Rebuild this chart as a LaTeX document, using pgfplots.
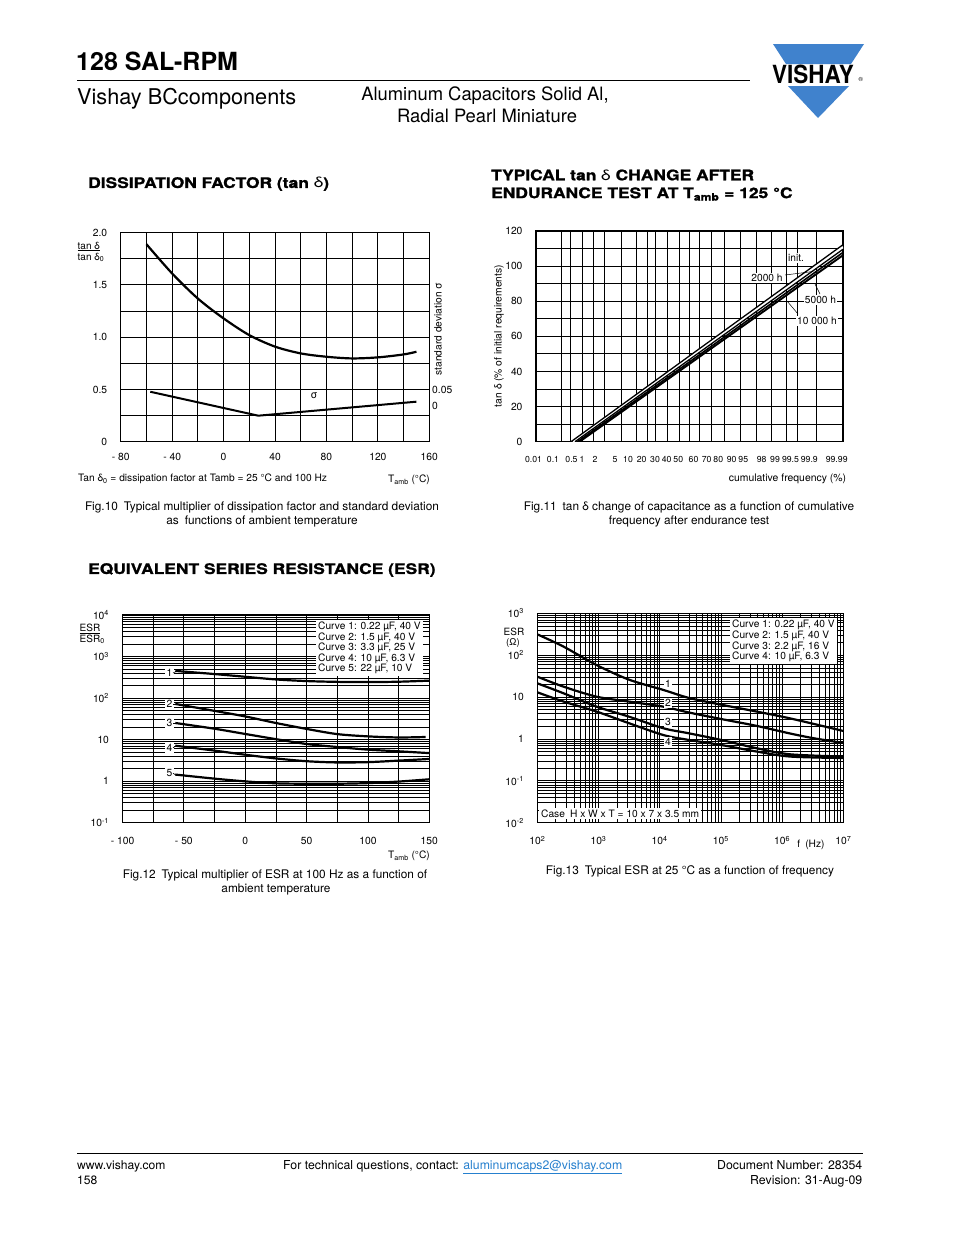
\documentclass[border=0pt]{standalone}
\usepackage{pgfplots}
\pgfplotsset{compat=1.18}
\usepackage{fontspec}
\setmainfont{TeX Gyre Heros}
\newfontfamily\headfont[FakeStretch=1.2, BoldFeatures={FakeBold=1.3}]{TeX Gyre Heros}
\definecolor{vblue}{RGB}{64,130,205}
\definecolor{linkblue}{RGB}{38,128,206}
\newcommand\fs[1]{\fontsize{#1}{#1}\selectfont}
\pgfplotsset{
  chart/.style={
    scale only axis, clip=true,
    axis line style={line width=1.1pt},
    major grid style={black, line width=0.8pt},
    minor grid style={black, line width=0.55pt},
    tick style={draw=none},
    tick label style={font=\fs{10.3}},
    /pgf/number format/assume math mode=true,
    xticklabel style={yshift=-8pt},
    yticklabel style={xshift=-10pt},
  }
}
\begin{document}
\begin{tikzpicture}[x=1pt,y=1pt]
\useasboundingbox (0,0) rectangle (954,-1235);
\fill[white] (0,0) rectangle (954,-1235);

% ---------- header ----------
\node[anchor=base west, inner sep=0, font=\fs{25}\bfseries] at (76,-70) {128 SAL-RPM};
\draw[line width=1pt] (77,-80) -- (750,-80);
\node[anchor=base west, inner sep=0, font=\fs{21.7}] at (77,-104) {Vishay BCcomponents};
\node[anchor=base, inner sep=0, font=\fs{18.4}] at (485,-100) {Aluminum Capacitors Solid Al,};
\node[anchor=base, inner sep=0, font=\fs{18.4}] at (487,-122) {Radial Pearl Miniature};
% logo
\fill[vblue] (773,-44) -- (864,-44) -- (851,-64) -- (786,-64) -- cycle;
\fill[vblue] (788,-86) -- (849,-86) -- (818,-118) -- cycle;
\node[anchor=base west, inner sep=0, font=\fs{25}\bfseries, xscale=0.9] at (772,-83) {VISHAY};
\node[anchor=base west, inner sep=0, font=\fs{6}] at (858.5,-81) {\textregistered};

% ---------- headings ----------
\node[anchor=west, inner sep=0, font=\headfont\fs{14.5}\bfseries] at (88,-184) {DISSIPATION FACTOR (tan {\mdseries δ})};
\node[anchor=west, inner sep=0, font=\headfont\fs{14.5}\bfseries] at (491,-175) {TYPICAL tan {\mdseries δ} CHANGE AFTER};
\node[anchor=west, inner sep=0, font=\headfont\fs{14.5}\bfseries] at (491,-194) {ENDURANCE TEST AT T\textsubscript{amb} = 125 °C};
\node[anchor=west, inner sep=0, font=\headfont\fs{14.5}\bfseries] at (88,-570) {EQUIVALENT SERIES RESISTANCE (ESR)};

% ---------- chart 1 ----------
\begin{axis}[chart, at={(120.7pt,-441.7pt)}, anchor=south west, width=308.6pt, height=209pt,
  xmin=-80, xmax=160, ymin=0, ymax=2,
  xtick={-80,-60,...,160}, xticklabels={- 80,,- 40,,0,,40,,80,,120,,160},
  ytick={0,0.25,...,2}, yticklabels={0,,0.5,,1.0,,1.5,,2.0},
  grid=major, major grid style={black, line width=1pt}]
\addplot[black, line width=2.2pt, smooth] coordinates {
  (-60,1.89) (-40,1.61) (-20,1.37) (0,1.18) (20,1.02) (40,0.91) (60,0.845)
  (80,0.813) (100,0.797) (120,0.807) (140,0.835) (150,0.861)};
\addplot[black, line width=2pt] coordinates {(-57,0.478) (27,0.249) (150,0.383)};
\end{axis}
\node[font=\fs{10.5}] at (314,-396) {σ};
\node[anchor=west, inner sep=0, font=\fs{10}] at (77.5,-246.5) {\underline{tan δ}};
\node[anchor=west, inner sep=0, font=\fs{10}] at (77.5,-257.5) {tan δ\textsubscript{0}};
\node[rotate=90, font=\fs{10.2}] at (438,-329) {standard deviation σ};
\node[anchor=west, inner sep=0, font=\fs{10.3}] at (432,-390) {0.05};
\node[anchor=west, inner sep=0, font=\fs{10.3}] at (432,-406) {0};
\node[anchor=west, inner sep=0, font=\fs{10.2}] at (78,-479) {Tan δ\textsubscript{0} = dissipation factor at Tamb = 25 °C and 100 Hz};
\node[anchor=east, inner sep=0, font=\fs{10.2}] at (430,-480) {T\textsubscript{amb} (°C)};
\node[anchor=base, inner sep=0, font=\fs{11.85}] at (262,-510) {Fig.10\enspace Typical multiplier of dissipation factor and standard deviation};
\node[anchor=base, inner sep=0, font=\fs{11.85}] at (262,-524) {as\enspace functions of ambient temperature};

% ---------- chart 2 ----------
\begin{axis}[chart, at={(536pt,-441.7pt)}, anchor=south west, width=307pt, height=210.7pt,
  xmin=536, xmax=843, ymin=0, ymax=120,
  xtick={561.5,570,582,593,604,621.5,636.5,647,655.5,667.5,679.5,689.5,699.5,711.5,724,740,756.5,771.5,786.5,797,816.5},
  xticklabels={,,,,,,,,,,,,,,,,,,,,},
  ytick={0,10,...,120}, yticklabels={0,,20,,40,,60,,80,,100,,120},
  grid=major, major grid style={black, line width=0.9pt}]
\addplot[white, line width=3pt] coordinates {(573,0) (843,110.9)};
\addplot[black, line width=1.3pt] coordinates {(571,0) (843,112.2)};
\addplot[black, line width=1.3pt] coordinates {(575,0) (843,109.6)};
\addplot[black, line width=1.6pt] coordinates {(577.5,0) (843,107.8)};
\addplot[black, line width=1.9pt] coordinates {(579.5,0) (843,106.2)};
\end{axis}
\draw[line width=0.5pt] (785,-275) -- (813,-271.5);
\draw[line width=0.5pt] (820,-294) -- (815,-284);
\draw[line width=0.5pt] (798,-314) -- (787,-301);
\node[fill=white, inner sep=1pt, font=\fs{10.2}] at (796,-258) {init.};
\node[fill=white, inner sep=1pt, font=\fs{10.2}] at (767,-278) {2000 h};
\node[fill=white, inner sep=1pt, font=\fs{10.2}] at (820.5,-300) {5000 h};
\node[fill=white, inner sep=1pt, font=\fs{10.2}] at (817,-321) {10 000 h};
\node[rotate=90, font=\fs{10.3}] at (499,-336) {tan δ (\% of initial requirements)};
\foreach \xx/\lab in {533.5/0.01,553/0.1,571.5/0.5,582/1,595/2,615/5,628/10,641.7/20,655/30,666.7/40,678.3/50,693.5/60,706.7/70,718.3/80,731.7/90,743.3/95,761.7/98,775/99,790.5/99.5,809.3/99.9,836.7/99.99}
  \node[font=\fs{8.7}, inner sep=0, anchor=base] at (\xx,-462) {\lab};
\node[font=\fs{10.4}] at (787.5,-479) {cumulative frequency (\%)};
\node[anchor=base, inner sep=0, font=\fs{11.85}] at (689,-510) {Fig.11\enspace tan δ change of capacitance as a function of cumulative};
\node[anchor=base, inner sep=0, font=\fs{11.85}] at (689,-524) {frequency after endurance test};

% ---------- chart 3 ----------
\begin{axis}[chart, at={(122.5pt,-822.5pt)}, anchor=south west, width=306.8pt, height=207.5pt,
  xmin=-100, xmax=150, ymode=log, ymin=0.1, ymax=10000,
  xtick={-100,-75,...,150}, xticklabels={- 100,,- 50,,0,,50,,100,,150},
  xticklabel style={yshift=-3.5pt},
  ytick={0.1,1,10,100,1000,10000},
  yticklabels={10\textsuperscript{-1},1,10,10\textsuperscript{2},10\textsuperscript{3},10\textsuperscript{4}},
  minor ytick={0.2,0.3,0.4,0.5,0.6,0.7,0.8,0.9,2,3,4,5,6,7,8,9,20,30,40,50,60,70,80,90,200,300,400,500,600,700,800,900,2000,3000,4000,5000,6000,7000,8000,9000},
  xmajorgrids, ymajorgrids, yminorgrids]
\addplot[black, line width=2.2pt, smooth] coordinates {(-57,450) (-25,378) (0,325) (25,280) (50,256) (75,245) (100,242) (125,247) (150,262)};
\addplot[black, line width=2.2pt, smooth] coordinates {(-57,72) (-25,49) (0,36) (25,25) (50,18) (75,13.5) (100,11.9) (125,11.2) (147,11.5)};
\addplot[black, line width=2.2pt, smooth] coordinates {(-57,25) (-25,18.2) (0,13.6) (25,10.2) (50,7.8) (75,6.6) (100,5.7) (125,5.2) (150,4.7)};
\addplot[black, line width=2.2pt, smooth] coordinates {(-57,7.1) (-25,5.4) (0,4.3) (25,3.5) (50,3.0) (75,2.8) (100,2.85) (125,3.1) (150,3.4)};
\addplot[black, line width=2.2pt, smooth] coordinates {(-57,1.43) (-25,1.14) (0,0.98) (25,0.88) (50,0.86) (75,0.86) (100,0.89) (125,0.97) (150,1.1)};
\end{axis}
\foreach \yy/\lab/\cy in {673/1/671.5, 704/2/704, 723.3/3/723.3, 747.7/4/746, 773.3/5/775}{
  \node[fill=white, inner sep=1.2pt, font=\fs{10.3}] at (169.5,-\yy) {\lab};
  \draw[line width=0.6pt] (173,-\yy) -- (176,-\cy);
}
\node[fill=white, anchor=north west, inner sep=2pt, align=left, font={\fontsize{10.2}{10.5}\selectfont}] at (316,-620) {%
  Curve 1: 0.22 µF, 40 V\\Curve 2: 1.5 µF, 40 V\\Curve 3: 3.3 µF, 25 V\\Curve 4: 10 µF, 6.3 V\\Curve 5: 22 µF, 10 V};
\node[anchor=west, inner sep=0, font=\fs{10}] at (79.5,-628.5) {\underline{ESR}};
\node[anchor=west, inner sep=0, font=\fs{10}] at (79.5,-639.5) {ESR\textsubscript{0}};
\node[anchor=east, inner sep=0, font=\fs{10.2}] at (430,-856) {T\textsubscript{amb} (°C)};
\node[anchor=base, inner sep=0, font=\fs{11.85}] at (275,-878) {Fig.12\enspace Typical multiplier of ESR at 100 Hz as a function of};
\node[anchor=base, inner sep=0, font=\fs{11.85}] at (276,-892) {ambient temperature};

% ---------- chart 4 ----------
\begin{axis}[chart, at={(537.3pt,-822.7pt)}, anchor=south west, width=306pt, height=209.4pt,
  xmode=log, ymode=log, xmin=1e2, xmax=1e7, ymin=1e-2, ymax=1e3,
  xticklabel style={yshift=-2pt},
  xtick={1e2,1e3,1e4,1e5,1e6,1e7},
  xticklabels={10\textsuperscript{2},10\textsuperscript{3},10\textsuperscript{4},10\textsuperscript{5},10\textsuperscript{6},10\textsuperscript{7}},
  ytick={1e-2,1e-1,1,10,1e2,1e3},
  yticklabels={10\textsuperscript{-2},10\textsuperscript{-1},1,10,10\textsuperscript{2},10\textsuperscript{3}},
  minor xtick={2e2,3e2,4e2,5e2,6e2,7e2,8e2,9e2,2e3,3e3,4e3,5e3,6e3,7e3,8e3,9e3,2e4,3e4,4e4,5e4,6e4,7e4,8e4,9e4,2e5,3e5,4e5,5e5,6e5,7e5,8e5,9e5,2e6,3e6,4e6,5e6,6e6,7e6,8e6,9e6},
  minor ytick={2e-2,3e-2,4e-2,5e-2,6e-2,7e-2,8e-2,9e-2,0.2,0.3,0.4,0.5,0.6,0.7,0.8,0.9,2,3,4,5,6,7,8,9,20,30,40,50,60,70,80,90,200,300,400,500,600,700,800,900},
  grid=both]
\addplot[black, line width=2.2pt, smooth] coordinates {(100,315) (269,160) (933,58) (3162,26) (11482,14.8) (29512,9.6) (1e5,6.6) (384592,4.5) (1348963,3.1) (1e7,1.55)};
\addplot[black, line width=2.2pt, smooth] coordinates {(100,30.7) (269,17.7) (933,10.2) (3162,7.8) (11482,5.9) (29512,4.3) (1e5,3.0) (384592,2.05) (1348963,1.35) (3162278,1.05) (1e7,0.8)};
\addplot[black, line width=2.2pt, smooth] coordinates {(100,21.3) (269,12.3) (933,5.9) (3162,3.4) (11482,1.8) (29512,1.37) (1e5,0.95) (384592,0.6) (1348963,0.43) (1e7,0.38)};
\addplot[black, line width=2.2pt, smooth] coordinates {(100,13) (269,7.8) (933,4.5) (3162,2.37) (11482,1.24) (29512,0.95) (1e5,0.72) (384592,0.5) (1348963,0.38) (1e7,0.35)};
\end{axis}
\foreach \yy/\lab in {684.3/1, 703.3/2, 722.3/3, 741.7/4}
  \node[fill=white, inner sep=1.2pt, font=\fs{10.3}] at (668,-\yy) {\lab};
\node[fill=white, anchor=north west, inner sep=2pt, align=left, font={\fontsize{10.2}{10.7}\selectfont}] at (730,-618) {%
  Curve 1: 0.22 µF, 40 V\\Curve 2: 1.5 µF, 40 V\\Curve 3: 2.2 µF, 16 V\\Curve 4: 10 µF, 6.3 V};
\node[fill=white, anchor=west, inner sep=2pt, font=\fs{10.2}] at (539,-813.5) {Case\enspace H x W x T = 10 x 7 x 3.5 mm};
\node[anchor=west, inner sep=0, font=\fs{10}] at (503.5,-632) {ESR};
\node[anchor=west, inner sep=0, font=\fs{9.5}] at (506,-643) {(Ω)};
\node[font=\fs{10.2}] at (811,-845) {f\enspace (Hz)};
\node[anchor=base, inner sep=0, font=\fs{11.85}] at (690,-874) {Fig.13\enspace Typical ESR at 25 °C as a function of frequency};

% ---------- footer ----------
\draw[line width=0.8pt] (77,-1153) -- (863,-1153);
\node[anchor=base west, inner sep=0, font=\fs{12.1}] at (77,-1169) {www.vishay.com};
\node[anchor=base west, inner sep=0, font=\fs{12.1}] at (77,-1184) {158};
\node[anchor=base west, inner sep=0, font=\fs{12.3}] at (283,-1169) {For technical questions, contact: \textcolor{linkblue}{\underline{aluminumcaps2@vishay.com}}};
\node[anchor=base east, inner sep=0, font=\fs{12.3}] at (862.5,-1169) {Document Number: 28354};
\node[anchor=base east, inner sep=0, font=\fs{12.3}] at (862.5,-1184) {Revision: 31-Aug-09};
\end{tikzpicture}
\end{document}
